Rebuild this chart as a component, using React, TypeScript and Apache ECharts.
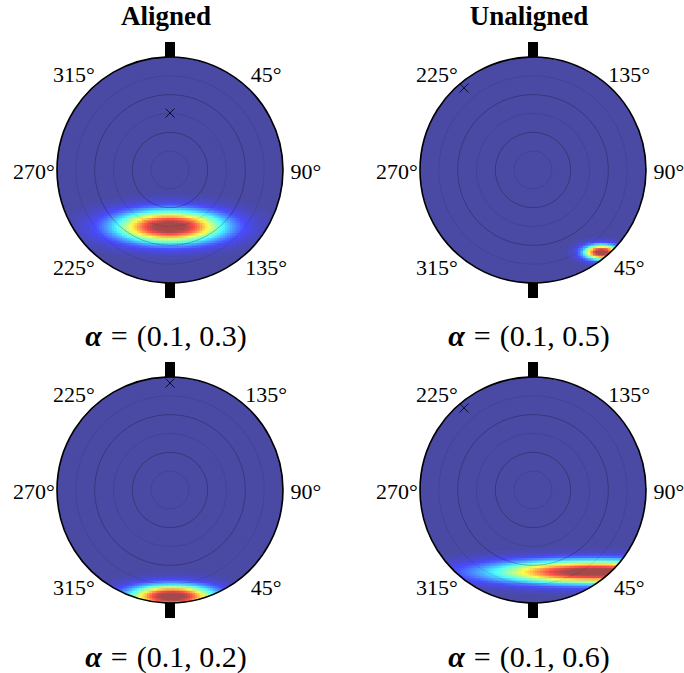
import React, { useEffect, useRef } from 'react';
import * as echarts from 'echarts';

// ---------- data ----------
const PANEL_TITLES = ['Aligned', 'Unaligned'];
const ALPHA_LABELS = ['(0.1, 0.3)', '(0.1, 0.5)', '(0.1, 0.2)', '(0.1, 0.6)'];
// angle tick labels at screen positions: upper-left, upper-right, right, lower-right, lower-left, left
const ANGLE_TICKS_TL = ['315°', '45°', '90°', '135°', '225°', '270°'];
const ANGLE_TICKS_TR = ['225°', '135°', '90°', '45°', '315°', '270°'];
const ANGLE_TICKS_BL = ['225°', '135°', '90°', '45°', '315°', '270°'];
const ANGLE_TICKS_BR = ['225°', '135°', '90°', '45°', '315°', '270°'];
// density peak parameters per panel (TL, TR, BL, BR), normalized disk coords, y up
const PEAK_X = [0.0, 0.61, 0.02, 0.55];
const PEAK_Y = [-0.5, -0.726, -0.94, -0.724];
const SPREAD_X = [0.32, 0.106, 0.257, 0.6];
const SPREAD_Y = [0.097, 0.045, 0.07, 0.07];
const PEAK_LEVEL = [1.1, 1.1, 1.1, 1.1];
// "x" marker per panel
const MARK_X = [0, -0.61, 0, -0.61];
const MARK_Y = [0.504, 0.726, 0.947, 0.726];

// ---------- layout / style ----------
const CX = [170, 533, 170, 533];
const CY = [170, 170, 490, 490];
const R = 113;
const SCREEN_DIRS = [315, 45, 90, 135, 225, 270];
const N = 90;
const STEP = 2 / N;
const FONT = '"Liberation Serif", "Times New Roman", serif';
const JET = ['#4a4aa5', '#4a4aff', '#4aa5ff', '#4affff', '#a5ffa5', '#ffff4a', '#ffa54a', '#ff4a4a', '#a54a4a'];
const BASE = '#4a4aa5';

function buildCells(i: number) {
  const out: number[][] = [];
  for (let a = 0; a < N; a++) {
    for (let b = 0; b < N; b++) {
      const x = -1 + STEP * (a + 0.5);
      const y = -1 + STEP * (b + 0.5);
      if (x * x + y * y > (1 + STEP) * (1 + STEP)) continue;
      const dx = (x - PEAK_X[i]) / SPREAD_X[i];
      const dy = (y - PEAK_Y[i]) / SPREAD_Y[i];
      const v = Math.min(1, PEAK_LEVEL[i] * Math.exp(-0.5 * (dx * dx + dy * dy)));
      if (v < 0.01) continue;
      out.push([x, y, v]);
    }
  }
  return out;
}

export default function App() {
  const ref = useRef<HTMLDivElement>(null);
  useEffect(() => {
    if (!ref.current) return;
    const chart = echarts.init(ref.current, null, { renderer: 'svg' });
    const idx = [0, 1, 2, 3];
    const ticks = [ANGLE_TICKS_TL, ANGLE_TICKS_TR, ANGLE_TICKS_BL, ANGLE_TICKS_BR];

    const graphics: any[] = [];
    idx.forEach((i) => {
      const cx = CX[i], cy = CY[i];
      graphics.push({ type: 'circle', z: 1, silent: true, shape: { cx, cy, r: R }, style: { fill: BASE } });
      graphics.push({ type: 'ring', z: 30, silent: true, shape: { cx, cy, r: R + 6, r0: R }, style: { fill: '#fff' } });
      graphics.push({ type: 'circle', z: 31, silent: true, shape: { cx, cy, r: R }, style: { fill: 'none', stroke: '#000', lineWidth: 1.6 } });
      graphics.push({ type: 'rect', z: 31, silent: true, shape: { x: cx - 5, y: cy - R - 15, width: 10, height: 15 }, style: { fill: '#000' } });
      graphics.push({ type: 'rect', z: 31, silent: true, shape: { x: cx - 5, y: cy + R, width: 10, height: 15 }, style: { fill: '#000' } });
      SCREEN_DIRS.forEach((d, k) => {
        const rad = (d * Math.PI) / 180;
        graphics.push({
          type: 'text', z: 32, silent: true,
          x: cx + 136 * Math.sin(rad), y: cy - 136 * Math.cos(rad) + 1,
          style: { text: ticks[i][k], font: `22px ${FONT}`, fill: '#000', align: 'center', verticalAlign: 'middle', textAlign: 'center', textVerticalAlign: 'middle' },
        });
      });
      graphics.push({
        type: 'text', z: 32, silent: true,
        x: cx - 4, y: i < 2 ? 335 : 656,
        style: {
          text: `{a|α}{e|=}{b|${ALPHA_LABELS[i]}}`,
          font: `30px ${FONT}`, fill: '#000',
          align: 'center', verticalAlign: 'middle', textAlign: 'center', textVerticalAlign: 'middle',
          rich: {
            a: { fontStyle: 'italic', fontWeight: 'bold', fontSize: 30, fontFamily: FONT, fill: '#000', lineHeight: 28 },
            e: { fontSize: 30, fontFamily: FONT, padding: [0, 9, 0, 9], fill: '#000', lineHeight: 28 },
            b: { fontSize: 30, fontFamily: FONT, fill: '#000', lineHeight: 28 },
          },
        },
      });
    });
    [0, 1].forEach((c) => {
      graphics.push({
        type: 'text', z: 32, silent: true, x: CX[c] - 4, y: 16,
        style: { text: PANEL_TITLES[c], font: `bold 27px ${FONT}`, fill: '#000', align: 'center', verticalAlign: 'middle', textAlign: 'center', textVerticalAlign: 'middle' },
      });
    });

    const option: any = {
      animation: false,
      backgroundColor: '#fff',
      visualMap: {
        show: false, type: 'continuous', min: 0, max: 1, dimension: 2,
        seriesIndex: [0, 1, 2, 3], inRange: { color: JET },
      },
      grid: idx.map((i) => ({ left: CX[i] - R, top: CY[i] - R, width: 2 * R, height: 2 * R, show: false })),
      xAxis: idx.map((i) => ({ type: 'value', gridIndex: i, min: -1, max: 1, show: false })),
      yAxis: idx.map((i) => ({ type: 'value', gridIndex: i, min: -1, max: 1, show: false })),
      polar: idx.map((i) => ({ center: [CX[i], CY[i]], radius: R })),
      radiusAxis: idx.map((i) => ({
        polarIndex: i, type: 'value', min: 0, max: 6, interval: 1, z: 10,
        axisLine: { show: false }, axisTick: { show: false }, axisLabel: { show: false },
        splitLine: { show: true, lineStyle: { color: ['rgba(0,0,0,0.25)', 'rgba(0,0,0,0.1)'], width: 1 } },
      })),
      angleAxis: idx.map((i) => ({
        polarIndex: i, type: 'value', min: 0, max: 360, show: false,
        axisLine: { show: false }, axisTick: { show: false }, axisLabel: { show: false }, splitLine: { show: false },
      })),
      graphic: { elements: graphics },
      series: [
        ...idx.map((i) => ({
          type: 'custom', xAxisIndex: i, yAxisIndex: i, z: 2, silent: true,
          data: buildCells(i),
          encode: { x: 0, y: 1 },
          renderItem: (params: any, api: any) => {
            const c = api.coord([api.value(0), api.value(1)]);
            const s = api.size([STEP, STEP]);
            return {
              type: 'rect',
              shape: { x: c[0] - s[0] / 2 - 0.3, y: c[1] - s[1] / 2 - 0.3, width: s[0] + 0.6, height: s[1] + 0.6 },
              style: { fill: api.visual('color') },
            };
          },
        })),
        ...idx.map((i) => ({
          type: 'scatter', xAxisIndex: i, yAxisIndex: i, z: 20, silent: true,
          symbol: 'path://M0,0L10,10M10,0L0,10', symbolSize: 9,
          itemStyle: { color: 'rgba(0,0,0,0)', borderColor: '#000', borderWidth: 1 },
          data: [[MARK_X[i], MARK_Y[i]]],
        })),
      ],
    };
    chart.setOption(option);
    return () => chart.dispose();
  }, []);
  return <div ref={ref} style={{ position: 'absolute', left: 0, top: 0, width: 684, height: 673 }} />;
}
